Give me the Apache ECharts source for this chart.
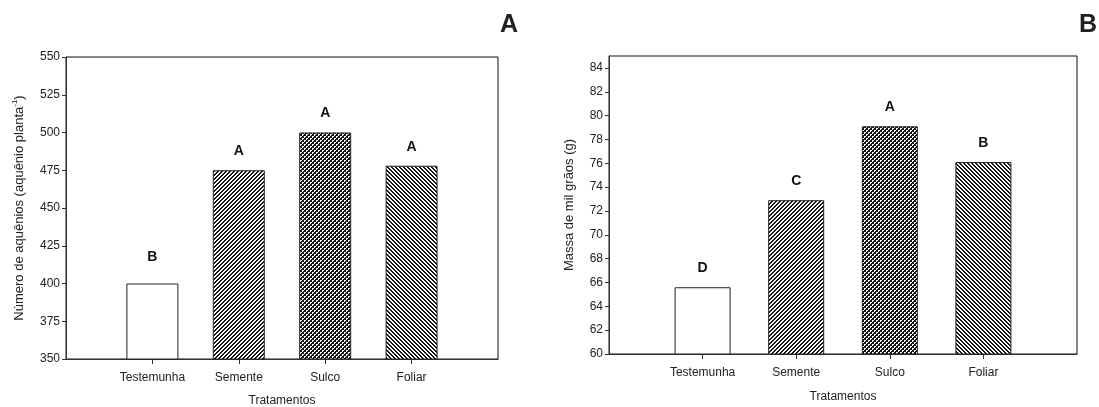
<!DOCTYPE html>
<html>
<head>
<meta charset="utf-8">
<style>
  html, body { margin: 0; padding: 0; background: #fff; }
  #chart { width: 1099px; height: 407px; }
</style>
</head>
<body>
<div id="chart"></div>
<script src="https://cdn.jsdelivr.net/npm/echarts@6/dist/echarts.min.js"></script>
<script>
// dados
var tratamentos = ['Testemunha', 'Semente', 'Sulco', 'Foliar'];
var aquenios = [400, 475, 500, 478];
var letrasA = ['B', 'A', 'A', 'A'];
var massaMil = [65.6, 72.9, 79.1, 76.1];
var letrasB = ['D', 'C', 'A', 'B'];
var ticksB = [60, 62, 64, 66, 68, 70, 72, 74, 76, 78, 80, 82, 84];
var posicoes = [1, 2, 3, 4];

// padroes das barras (hachuras)
function hachura(fn) {
  var c = document.createElement('canvas');
  c.width = 4; c.height = 4;
  var ctx = c.getContext('2d');
  var img = ctx.createImageData(4, 4);
  for (var y = 0; y < 4; y++) {
    for (var x = 0; x < 4; x++) {
      var k = (y * 4 + x) * 4;
      var v = fn(x, y) ? 20 : 255;
      img.data[k] = v; img.data[k + 1] = v; img.data[k + 2] = v; img.data[k + 3] = 255;
    }
  }
  ctx.putImageData(img, 0, 0);
  return { image: c, repeat: 'repeat' };
}
var cores = [
  '#ffffff',
  hachura(function (x, y) { return (x + y) % 4 < 2; }),
  hachura(function (x, y) {
    var branco = (x == 0 && y == 0) || (x == 1 && y == 0) || (x == 0 && y == 1) ||
                 (x == 2 && y == 2) || (x == 3 && y == 2) || (x == 2 && y == 3);
    return !branco;
  }),
  hachura(function (x, y) { return ((x - y) % 4 + 4) % 4 < 2; })
];

function montaDados(valores, letras, distPrimeiro) {
  return valores.map(function (v, i) {
    var lab = { formatter: letras[i] };
    if (i == 0 && distPrimeiro) lab.distance = distPrimeiro;
    return {
      value: [posicoes[i], v],
      itemStyle: { color: cores[i] },
      label: lab
    };
  });
}

var fonte = 'Liberation Sans, Arial, sans-serif';
var eixoCor = '#333';

function eixoX(grid, margem, gap) {
  return {
    type: 'value', gridIndex: grid, min: 0, max: 5, interval: 1,
    name: 'Tratamentos', nameLocation: 'middle', nameGap: gap,
    nameTextStyle: { fontFamily: fonte, fontSize: 12, color: '#222' },
    axisLine: { show: true, lineStyle: { color: eixoCor } },
    axisTick: { show: true, length: 5, customValues: posicoes, lineStyle: { color: eixoCor } },
    axisLabel: {
      customValues: posicoes, margin: margem,
      fontFamily: fonte, fontSize: 12, color: '#222',
      formatter: function (v) { return tratamentos[v - 1] || ''; }
    },
    splitLine: { show: false }
  };
}

var myChart = echarts.init(document.getElementById('chart'));
var option = {
  backgroundColor: '#fff',
  animation: false,
  title: [
    { text: 'A', left: 495, top: 8, textStyle: { fontFamily: fonte, fontSize: 25, fontWeight: 'bold', color: '#222' } },
    { text: 'B', left: 1074, top: 8, textStyle: { fontFamily: fonte, fontSize: 25, fontWeight: 'bold', color: '#222' } }
  ],
  grid: [
    { left: 66, top: 57, width: 432, height: 302, outerBoundsMode: 'none', containLabel: false,
      show: true, borderColor: '#111', borderWidth: 1 },
    { left: 609, top: 56, width: 468, height: 298, outerBoundsMode: 'none', containLabel: false,
      show: true, borderColor: '#111', borderWidth: 1 }
  ],
  xAxis: [eixoX(0, 13, 36), eixoX(1, 13, 37)],
  yAxis: [{
    type: 'value', gridIndex: 0, min: 350, max: 550, interval: 25,
    name: 'Número de aquênios (aquênio planta{sup|-1})', nameLocation: 'middle', nameGap: 39,
    nameTextStyle: {
      fontFamily: fonte, fontSize: 13, color: '#222', lineHeight: 16,
      rich: { sup: { fontFamily: fonte, fontSize: 8, color: '#222', verticalAlign: 'top', lineHeight: 16 } }
    },
    axisLine: { show: true, lineStyle: { color: eixoCor } },
    axisTick: { show: true, length: 4, lineStyle: { color: eixoCor } },
    axisLabel: { fontFamily: fonte, fontSize: 12, color: '#222', margin: 6 },
    splitLine: { show: false }
  }, {
    type: 'value', gridIndex: 1, min: 60, max: 85, interval: 2,
    name: 'Massa de mil grãos (g)', nameLocation: 'middle', nameGap: 33,
    nameTextStyle: { fontFamily: fonte, fontSize: 13, color: '#222' },
    axisLine: { show: true, lineStyle: { color: eixoCor } },
    axisTick: { show: true, length: 4, customValues: ticksB, lineStyle: { color: eixoCor } },
    axisLabel: { customValues: ticksB, fontFamily: fonte, fontSize: 12, color: '#222', margin: 6 },
    splitLine: { show: false }
  }],
  series: [{
    type: 'bar', xAxisIndex: 0, yAxisIndex: 0, barWidth: 52,
    itemStyle: { borderColor: '#222', borderWidth: 1 },
    label: { show: true, position: 'top', distance: 12, fontFamily: fonte, fontSize: 14, fontWeight: 'bold', color: '#111' },
    data: montaDados(aquenios, letrasA, 19)
  }, {
    type: 'bar', xAxisIndex: 1, yAxisIndex: 1, barWidth: 56,
    itemStyle: { borderColor: '#222', borderWidth: 1 },
    label: { show: true, position: 'top', distance: 12, fontFamily: fonte, fontSize: 14, fontWeight: 'bold', color: '#111' },
    data: montaDados(massaMil, letrasB)
  }]
};
myChart.setOption(option);
</script>
</body>
</html>
